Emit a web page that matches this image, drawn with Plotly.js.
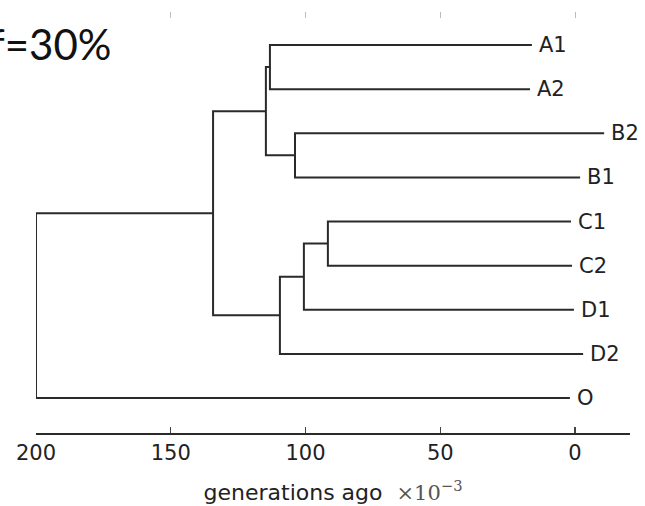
<!DOCTYPE html>
<html><head><meta charset="utf-8">
<script src="https://cdn.plot.ly/plotly-3.0.1.min.js"></script>
<style>html,body{margin:0;padding:0;background:#fff}#chart{width:645px;height:506px}</style>
</head><body><div id="chart"></div>
<script>
// leaves, top to bottom
const leafNames = ['A1','A2','B2','B1','C1','C2','D1','D2','O'];
const leafRows  = [9, 8, 7, 6, 5, 4, 3, 2, 1];
const leafTips  = [16.0, 16.7, -10.8, -1.9, 1.5, 1.1, 0.4, -3.0, 1.9];
// merges (scipy-like: leaves 0..8, merges 9..)
const mergeLeft    = [0, 2, 9, 4, 12, 13, 11, 15];
const mergeRight   = [1, 3, 10, 5, 6, 7, 14, 8];
const mergeHeights = [113.2, 103.9, 114.7, 91.7, 100.6, 109.5, 134.3, 200];
const tickValues = [200, 150, 100, 50, 0];
const tickLabels = ['200', '150', '100', '50', '0'];
const topTickValues = [150, 100, 50, 0];
const panelLabel = 'f=30%';
const axisTitle = 'generations ago';

const nodeX = leafTips.slice(), nodeY = leafRows.slice();
const xs = [], ys = [];
mergeLeft.forEach((l, i) => {
  const r = mergeRight[i], h = mergeHeights[i];
  xs.push(nodeX[l], h, h, nodeX[r], null);
  ys.push(nodeY[l], nodeY[l], nodeY[r], nodeY[r], null);
  nodeX.push(h); nodeY.push((nodeY[l] + nodeY[r]) / 2);
});

const traces = [
  {type:'scatter', mode:'lines', x:xs, y:ys, line:{color:'#2a2a2a', width:2}, hoverinfo:'skip', showlegend:false},
  {type:'scatter', mode:'markers', x:[null], y:[null], xaxis:'x2', yaxis:'y', showlegend:false, hoverinfo:'skip'}
];

const annotations = leafNames.map((n, i) => ({
  x: leafTips[i], y: leafRows[i], xref:'x', yref:'y', text:n, showarrow:false,
  xanchor:'left', yanchor:'middle', xshift:5,
  font:{family:'DejaVu Sans', size:21, color:'#222'}
}));
annotations.push({
  xref:'paper', yref:'y', x:-0.081, y:leafRows[0], text:panelLabel, showarrow:false,
  xanchor:'left', yanchor:'middle', yshift:1, font:{family:'Lato', size:42, color:'#111'}
});

const layout = {
  width:645, height:506,
  margin:{l:36, r:15, t:12, b:73},
  paper_bgcolor:'#fff', plot_bgcolor:'#fff',
  xaxis:{
    range:[200, -20.4], showgrid:false, zeroline:false,
    showline:true, linecolor:'#2a2a2a', linewidth:2,
    ticks:'inside', ticklen:6, tickwidth:1.2, tickcolor:'#444',
    tickvals:tickValues, ticktext:tickLabels,
    tickfont:{family:'DejaVu Sans', size:21, color:'#222'},
    title:{text: axisTitle + '  <span style="font-family:DejaVu Serif;font-size:21px;fill:#555">×10<sup>−3</sup></span>',
           font:{family:'DejaVu Sans', size:22, color:'#222'}, standoff:20}
  },
  xaxis2:{
    overlaying:'x', side:'top', anchor:'y', range:[200, -20.4],
    showgrid:false, zeroline:false, showline:false,
    ticks:'inside', ticklen:6, tickwidth:1, tickcolor:'#bbb',
    tickvals:topTickValues, showticklabels:false
  },
  yaxis:{range:[0.207, 9.748], visible:false, showgrid:false, zeroline:false},
  annotations: annotations
};

Plotly.newPlot('chart', traces, layout, {displayModeBar:false, staticPlot:true});
</script>
</body></html>
